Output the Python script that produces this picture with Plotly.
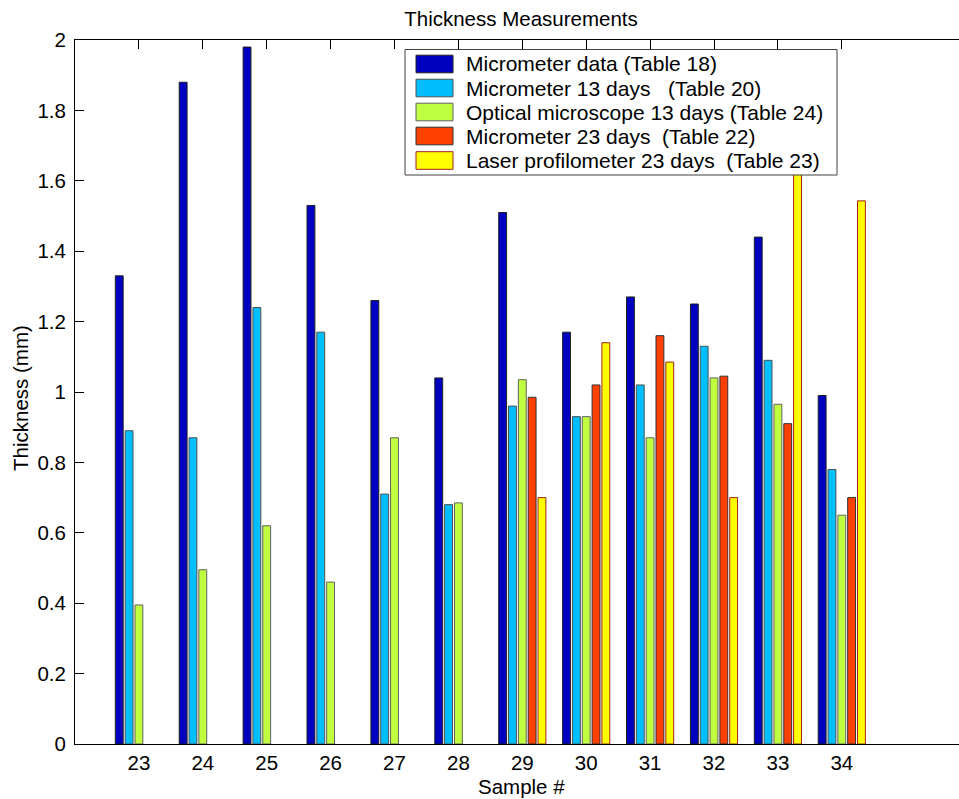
import plotly.graph_objects as go

samples = [23, 24, 25, 26, 27, 28, 29, 30, 31, 32, 33, 34]

micrometer_t18 = [1.33, 1.88, 1.98, 1.53, 1.26, 1.04, 1.51, 1.17, 1.27, 1.25, 1.44, 0.99]
micrometer_13d = [0.89, 0.87, 1.24, 1.17, 0.71, 0.68, 0.96, 0.93, 1.02, 1.13, 1.09, 0.78]
optical_13d = [0.395, 0.495, 0.62, 0.46, 0.87, 0.685, 1.035, 0.93, 0.87, 1.04, 0.965, 0.65]
micrometer_23d = [None, None, None, None, None, None, 0.985, 1.02, 1.16, 1.045, 0.91, 0.70]
laser_23d = [None, None, None, None, None, None, 0.70, 1.14, 1.085, 0.70, 1.72, 1.543]

series_names = [
    "Micrometer data (Table 18)",
    "Micrometer 13 days   (Table 20)",
    "Optical microscope 13 days (Table 24)",
    "Micrometer 23 days  (Table 22)",
    "Laser profilometer 23 days  (Table 23)",
]
series_values = [micrometer_t18, micrometer_13d, optical_13d, micrometer_23d, laser_23d]
fill_colors = ["#0000C0", "#00BFFF", "#BFFF40", "#FF4000", "#FFFF00"]
edge_colors = ["#202020", "#505050", "#606060", "#303030", "#A02020"]

y_ticks = [0, 0.2, 0.4, 0.6, 0.8, 1, 1.2, 1.4, 1.6, 1.8, 2]
y_ticklabels = ["0", "0.2", "0.4", "0.6", "0.8", "1", "1.2", "1.4", "1.6", "1.8", "2"]

FONT = "Liberation Sans, Arial, Helvetica, sans-serif"
FS = 20.5
FS_LEG = 21

W, H = 959, 799
left, right = 75, 959
top, bottom = 40, 744
unit_px = 63.9
x0 = 22
x1 = x0 + (right - left) / unit_px


def px_x(px):
    return (px - left) / (right - left)


def px_y(py):
    return (bottom - py) / (bottom - top)


fig = go.Figure()
for name, vals, fc, ec in zip(series_names, series_values, fill_colors, edge_colors):
    fig.add_trace(go.Bar(
        x=samples, y=vals, name=name,
        marker=dict(color=fc, line=dict(color=ec, width=1)),
        showlegend=False,
    ))

# Legend drawn as a box with swatches (MATLAB style)
shapes = [dict(type="rect", xref="paper", yref="paper", layer="above",
               x0=px_x(405), x1=px_x(837), y0=px_y(175), y1=px_y(49.5),
               fillcolor="white", line=dict(color="#404040", width=1))]
annotations = []
row_centers = [64, 88, 112, 136, 160.5]
for name, fc, ec, cy in zip(series_names, fill_colors, edge_colors, row_centers):
    shapes.append(dict(type="rect", xref="paper", yref="paper", layer="above",
                       x0=px_x(416), x1=px_x(453), y0=px_y(cy + 8.8), y1=px_y(cy - 8.8),
                       fillcolor=fc, line=dict(color=ec, width=1)))
    annotations.append(dict(text=name, xref="paper", yref="paper",
                            x=px_x(464), y=px_y(cy), xanchor="left", yanchor="middle",
                            showarrow=False,
                            font=dict(family=FONT, size=FS_LEG, color="black")))

annotations += [
    dict(text="Sample #", xref="paper", yref="paper",
         x=px_x(521), y=px_y(786),
         xanchor="center", yanchor="middle", showarrow=False,
         font=dict(family=FONT, size=FS, color="black")),
    dict(text="Thickness (mm)", xref="paper", yref="paper",
         x=px_x(20), y=px_y(398),
         xanchor="center", yanchor="middle", textangle=-90, showarrow=False,
         font=dict(family=FONT, size=FS, color="black")),
]

fig.update_layout(
    width=W, height=H,
    margin=dict(l=left, r=W - right, t=top, b=H - bottom, pad=0),
    paper_bgcolor="white", plot_bgcolor="white",
    barmode="group", bargap=0.231, bargroupgap=0.2,
    font=dict(family=FONT, size=FS, color="black"),
    title=dict(text="Thickness Measurements", x=521 / W, xanchor="center",
               y=1 - 18.5 / H, yanchor="middle", yref="container",
               font=dict(family=FONT, size=FS, color="black")),
    showlegend=False,
    xaxis=dict(
        range=[x0, x1], tickmode="array", tickvals=samples,
        ticktext=[str(s) for s in samples],
        ticks="inside", ticklen=9, tickcolor="black", tickwidth=1,
        showline=True, linecolor="black", linewidth=1, mirror="ticks",
        showgrid=False, zeroline=False, layer="below traces",
        tickfont=dict(family=FONT, size=FS, color="black"),
        ticklabelstandoff=0,
    ),
    yaxis=dict(
        range=[0, 2], tickmode="array", tickvals=y_ticks, ticktext=y_ticklabels,
        ticks="inside", ticklen=9, tickcolor="black", tickwidth=1,
        showline=True, linecolor="black", linewidth=1, mirror=False,
        showgrid=False, zeroline=False, layer="below traces",
        tickfont=dict(family=FONT, size=FS, color="black"),
        ticklabelstandoff=4,
    ),
    shapes=shapes,
    annotations=annotations,
)

fig.write_html("out.html", config={"displayModeBar": False},
               post_script="document.body.style.margin='0';document.body.style.padding='0';")
